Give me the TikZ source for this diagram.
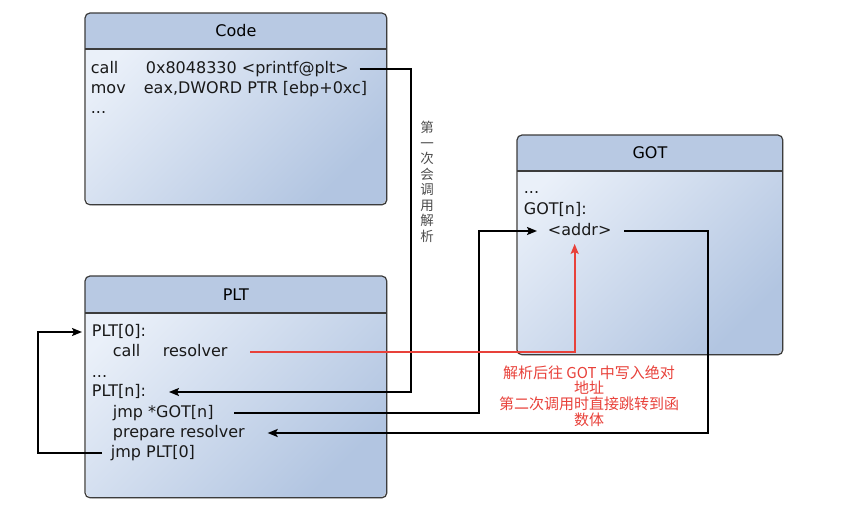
\documentclass[tikz,border=0pt]{standalone}
\usepackage{fontspec}
\setmainfont{DejaVu Sans}
\newfontfamily\cjk{Noto Sans CJK SC}
\usetikzlibrary{arrows.meta,positioning,shadows}
\definecolor{hdrblue}{HTML}{B8C9E3}
\definecolor{lightblue}{HTML}{EAF0F9}
\definecolor{darkblue}{HTML}{B2C5E1}
\definecolor{edgegray}{HTML}{3C3C3C}
\definecolor{notered}{HTML}{E8413A}

\begin{document}
\begin{tikzpicture}[x=1pt,y=-1pt,>={Stealth[length=10pt,width=8pt,inset=2pt]},
                    line width=1.8pt,font=\fontsize{16}{19}\selectfont]
  \tikzstyle{box}=[rectangle,rounded corners=5pt,inner sep=0pt,anchor=north west,
                   top color=lightblue,bottom color=darkblue,shading angle=45,
                   drop shadow={opacity=0.25,shadow xshift=1.5pt,shadow yshift=-1.5pt}]
  \tikzstyle{frame}=[draw=edgegray,line width=1.2pt,rounded corners=5pt]
  \tikzstyle{line}=[anchor=west,inner sep=0pt,text height=11pt,text depth=3pt,text=black!90]
  \tikzstyle{wire}=[->]

  \useasboundingbox (0,0) rectangle (848,514);

  % boxes
  \node[box,minimum width=300pt,minimum height=190pt] (code) at (85,13)  {};
  \node[box,minimum width=300pt,minimum height=220pt] (plt)  at (85,276) {};
  \node[box,minimum width=264pt,minimum height=218pt] (got)  at (517,135) {};

  \begin{scope}
    \clip[rounded corners=5pt] (code.north west) rectangle (code.south east);
    \fill[hdrblue] (code.north west) rectangle ([yshift=-36pt]code.north east);
  \end{scope}
  \begin{scope}
    \clip[rounded corners=5pt] (plt.north west) rectangle (plt.south east);
    \fill[hdrblue] (plt.north west) rectangle ([yshift=-37pt]plt.north east);
  \end{scope}
  \begin{scope}
    \clip[rounded corners=5pt] (got.north west) rectangle (got.south east);
    \fill[hdrblue] (got.north west) rectangle ([yshift=-36pt]got.north east);
  \end{scope}

  \draw[frame] (code.north west) rectangle (code.south east);
  \draw[frame] (plt.north west) rectangle (plt.south east);
  \draw[frame] (got.north west) rectangle (got.south east);
  \draw[frame,sharp corners] ([yshift=-36pt]code.north west) -- ([yshift=-36pt]code.north east);
  \draw[frame,sharp corners] ([yshift=-37pt]plt.north west) -- ([yshift=-37pt]plt.north east);
  \draw[frame,sharp corners] ([yshift=-36pt]got.north west) -- ([yshift=-36pt]got.north east);

  \node (codetitle) at ([yshift=-18pt]code.north) {Code};
  \node (plttitle)  at ([yshift=-19pt]plt.north)  {PLT};
  \node (gottitle)  at ([yshift=-18pt]got.north)  {GOT};

  % code lines
  \node[line] (c1) at (90,69)  {\makebox[55pt][l]{call}0x8048330 <printf@plt>};
  \node[line] (c2) at (90,89)  {\makebox[53pt][l]{mov}eax,DWORD PTR [ebp+0xc]};
  \node[line] (c3) at (90,109) {...};

  % plt lines
  \node[line] (p0) at (91,332)  {PLT[0]:};
  \node[line] (p1) at (112,352) {\makebox[50pt][l]{call}resolver};
  \node[line] (p2) at (91,373)  {...};
  \node[line] (pn) at (91,392)  {PLT[n]:};
  \node[line] (p5) at (112,413) {jmp *GOT[n]};
  \node[line] (p6) at (112,433) {prepare resolver};
  \node[line] (p7) at (110,453) {jmp PLT[0]};

  % got lines
  \node[line] (g1)   at (523,189) {...};
  \node[line] (g2)   at (523,210) {GOT[n]:};
  \node[line] (addr) at (547,231) {<addr>};

  % notes
  \node[font=\cjk\fontsize{13.5}{15.5}\selectfont,align=center,text=black!70] (first)
       at (427,182) {第\\一\\次\\会\\调\\用\\解\\析};
  \node[font=\cjk\fontsize{15}{15.7}\selectfont,align=center,text=notered] (note)
       at (589,396) {解析后往 GOT 中写入绝对\\地址\\第二次调用时直接跳转到函\\数体};

  % connectors
  \coordinate (l1) at (38,0);
  \coordinate (r1) at (411,0);
  \coordinate (r2) at (479,0);
  \coordinate (r3) at (708,0);

  \draw[wire] ([xshift=10pt]c1.east) -| (r1 |- pn.east) -- ([xshift=22pt]pn.east);
  \draw[wire] ([xshift=-8pt]p7.west) -| (l1 |- p0.west) -- ([xshift=-9pt]p0.west);
  \draw[wire] ([xshift=20pt]p5.east) -| (r2 |- addr.west) -- ([xshift=-10pt]addr.west);
  \draw[wire] ([xshift=12pt]addr.east) -| (r3 |- p6.east) -- ([xshift=22pt]p6.east);
  \draw[wire,notered] ([xshift=22pt]p1.east) -| ([xshift=-5pt,yshift=-5pt]addr.south);
\end{tikzpicture}
\end{document}
